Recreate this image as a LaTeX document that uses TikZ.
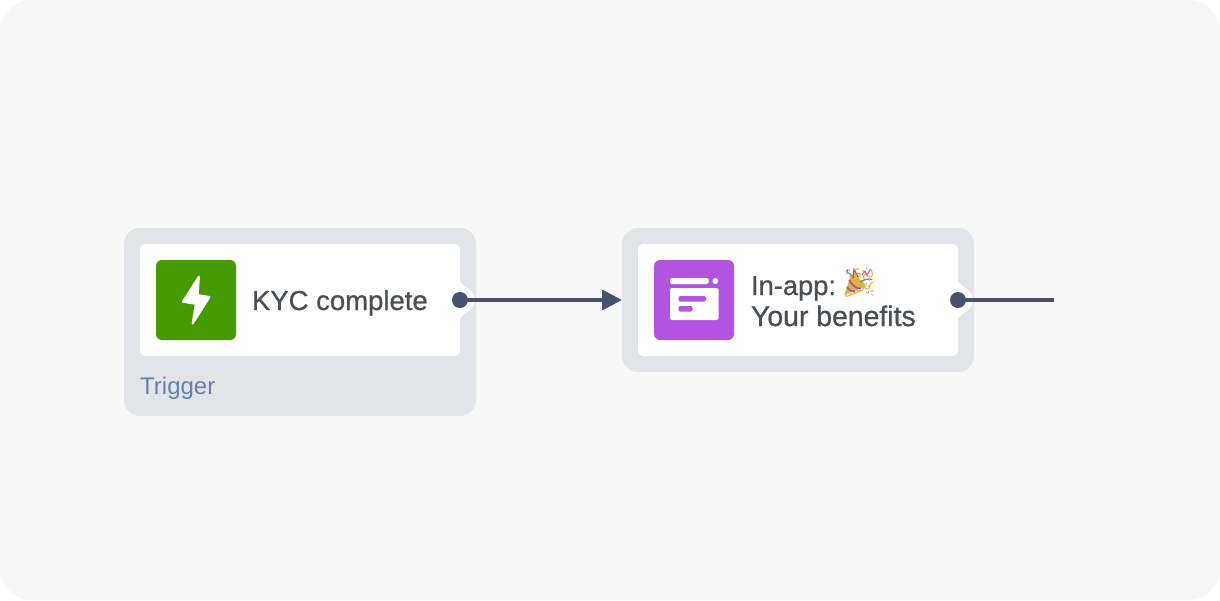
\documentclass[tikz,border=0pt]{standalone}
\usepackage{fontspec}
\setmainfont{Liberation Sans}
\newfontfamily\boldishfont[FakeBold=0.7]{Liberation Sans}
\newfontfamily\emojifont{Noto Emoji}
\usetikzlibrary{arrows.meta}
\definecolor{pagebg}{HTML}{F7F7F7}
\definecolor{shell}{HTML}{E1E4E9}
\definecolor{ink}{HTML}{4A4F57}
\definecolor{linkc}{HTML}{465370}
\definecolor{triggerc}{HTML}{6582AA}
\definecolor{greenc}{HTML}{459A00}
\definecolor{purplec}{HTML}{B354E0}
\definecolor{goldc}{HTML}{E3B23A}
\definecolor{confettiblue}{HTML}{4A90E0}
\definecolor{confettipink}{HTML}{E8608A}
\definecolor{confettired}{HTML}{DC4450}
\definecolor{stripec}{HTML}{A04FC8}
\tikzset{
  x=1pt,y=-1pt,
  shellbox/.style={fill=shell,rounded corners=16pt,minimum width=352pt,inner sep=0pt,outer sep=0pt},
  cardbox/.style={fill=white,rounded corners=6pt,minimum width=320pt,minimum height=112pt,inner sep=0pt,outer sep=0pt},
  iconbox/.style={rounded corners=6pt,minimum width=80pt,minimum height=80pt,inner sep=0pt,outer sep=0pt},
  port/.style={circle,fill=linkc,minimum size=16pt,inner sep=0pt,outer sep=0pt},
  label/.style={anchor=base west,inner sep=0pt,outer sep=0pt,text=ink},
  link/.style={draw=linkc,line width=4pt},
  bump/.style={fill=white,draw=none},
  streamer/.style={line width=1.2pt,line cap=round},
}
\begin{document}
\begin{tikzpicture}
\useasboundingbox (0,0) rectangle (1220,600);
\fill[pagebg,rounded corners=32pt] (0,0) rectangle (1220,600);
% trigger block
\node[shellbox,minimum height=188pt] (s1) at (300,322) {};
\node[cardbox] (c1) at (300,300) {};
\fill[bump] (459,278) .. controls (460,288) and (475,287) .. (475,300) .. controls (475,313) and (460,312) .. (459,322) -- cycle;
\node[iconbox,fill=greenc] (i1) at (196,300) {};
\filldraw[white,line width=2pt,line join=round] (199,276.5) -- (182.8,301.8) -- (195.8,303.8) -- (192.7,323.5) -- (209.5,297) -- (197.6,295) -- cycle;
\node[label,font=\boldishfont\fontsize{27.5}{31}\selectfont] (t1) at (252,310) {KYC complete};
\node[anchor=base west,inner sep=0pt,text=triggerc,font=\fontsize{24}{28}\selectfont] (t1b) at (140,394) {Trigger};
% in-app block
\node[shellbox,minimum height=144pt] (s2) at (798,300) {};
\node[cardbox] (c2) at (798,300) {};
\fill[bump] (957,278) .. controls (958,288) and (973,287) .. (973,300) .. controls (973,313) and (958,312) .. (957,322) -- cycle;
\node[iconbox,fill=purplec] (i2) at (694,300) {};
\fill[white,rounded corners=1.5pt] (670,278) rectangle (708.5,284);
\fill[white] (715.3,281) circle (3);
\fill[white,rounded corners=2pt] (670,288) rectangle (718.5,320);
\fill[purplec,rounded corners=2pt] (678.5,296) rectangle (706,301.5);
\fill[purplec,rounded corners=2pt] (678.5,306) rectangle (692.5,311.5);
\node[label,font=\boldishfont\fontsize{27.3}{31}\selectfont] (t2) at (751,295) {In-app:};
\node[anchor=base west,inner sep=0pt,text=goldc,font=\emojifont\fontsize{29}{29}\selectfont] (e2) at (841,292.5) {🎉};
\fill[goldc] (844.5,295) -- (851,274) .. controls (856,276) and (863,281) .. (866.5,286) -- cycle;
\draw[stripec,line width=1.6pt] (849,280) .. controls (852,285) and (856,289) .. (861,288.5);
\draw[stripec,line width=1.6pt] (847,287) .. controls (849,290) and (851,292) .. (855,291);
\draw[confettiblue,streamer] (848,269.5) .. controls (844,272) and (850,273) .. (852,276);
\draw[confettired,streamer] (853,278) -- (854,269.5) -- (858,277);
\draw[confettiblue,streamer] (860,282) .. controls (865,279) and (869,278.5) .. (872,279.5);
\draw[confettipink,streamer] (862,275) -- (865,271) -- (867,275) -- (870,269.5);
\fill[confettipink] (869,286) circle (0.9);
\fill[goldc] (871,291) circle (0.9);
\fill[confettipink] (868.5,292) circle (0.8);
\node[label,font=\boldishfont\fontsize{28.4}{31}\selectfont] (t3) at (751,326) {Your benefits};
% connectors
\coordinate (free) at (1054,300);
\node[port] (p1) at (460,300) {};
\node[port] (p2) at (958,300) {};
\draw[link,-{Triangle[length=20pt,width=20pt]}] (p1) -- (s2.west);
\draw[link] (p2) -- (free);
\end{tikzpicture}
\end{document}
